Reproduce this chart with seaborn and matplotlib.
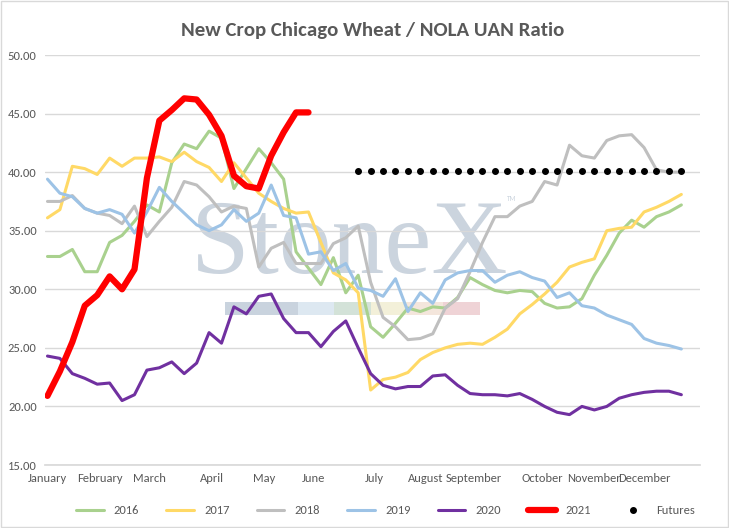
import numpy as np
import pandas as pd
import matplotlib
matplotlib.use("Agg")
import matplotlib.pyplot as plt
import seaborn as sns
from matplotlib.patches import Rectangle

months = ["January","February","March","April","May","June","July","August",
          "September","October","November","December"]
month_pos = [0, 4.2, 8.2, 13.25, 17.4, 21.4, 26.3, 30.4, 34.3, 39.8, 44.0, 48.0]

s2016 = [32.8,32.8,33.4,31.5,31.5,34.0,34.6,35.8,37.2,36.6,40.8,42.4,42.0,43.5,42.9,38.6,
         40.3,42.0,40.8,39.4,33.2,31.8,30.4,32.7,29.7,31.2,26.8,25.9,27.1,28.4,28.1,28.5,
         28.4,29.3,31.0,30.4,29.9,29.7,29.9,29.8,28.8,28.4,28.5,29.2,31.2,32.9,34.8,35.9,
         35.3,36.2,36.6,37.2]
s2017 = [36.1,36.8,40.5,40.3,39.8,41.2,40.5,41.2,41.2,41.3,40.9,41.7,40.9,40.4,39.2,40.8,
         39.5,38.2,37.5,36.9,36.5,36.6,34.0,31.4,30.8,29.7,21.4,22.3,22.5,22.9,24.0,24.6,
         25.0,25.3,25.4,25.3,25.9,26.6,27.9,28.7,29.6,30.6,31.9,32.3,32.6,35.0,35.2,35.3,
         36.6,37.0,37.5,38.1]
s2018 = [37.5,37.5,38.0,36.9,36.5,36.3,35.6,37.1,34.5,35.8,37.0,39.2,38.9,37.9,36.6,37.1,
         36.9,31.9,33.5,34.0,32.2,32.2,32.2,33.9,34.4,35.4,30.6,27.6,26.8,25.7,25.8,26.2,
         28.4,29.2,31.5,34.0,36.2,36.2,37.1,37.5,39.2,38.9,42.3,41.4,41.2,42.7,43.1,43.2,
         42.1,40.2,40.0,40.0]
s2019 = [39.4,38.2,37.9,36.9,36.5,36.8,36.4,34.8,36.6,38.7,37.5,36.5,35.5,35.0,35.5,36.8,
         35.8,36.5,38.9,36.3,36.1,33.0,33.2,31.6,32.2,30.1,29.9,29.4,30.9,28.1,29.7,28.8,
         30.8,31.4,31.6,31.6,30.6,31.2,31.5,31.0,30.7,29.3,29.7,28.6,28.4,27.8,27.4,27.0,
         25.8,25.4,25.2,24.9]
s2020 = [24.3,24.1,22.8,22.4,21.9,22.0,20.5,21.0,23.1,23.3,23.8,22.8,23.7,26.3,25.4,28.5,
         27.9,29.4,29.6,27.5,26.3,26.3,25.1,26.4,27.3,25.0,22.8,21.8,21.5,21.7,21.7,22.6,
         22.7,21.8,21.1,21.0,21.0,20.9,21.1,20.6,20.0,19.5,19.3,20.0,19.7,20.0,20.7,21.0,
         21.2,21.3,21.3,21.0]
s2021 = [20.9,23.0,25.5,28.6,29.5,31.1,30.0,31.7,39.5,44.4,45.3,46.3,46.2,44.9,43.1,39.7,
         38.8,38.6,41.4,43.4,45.1,45.1]
futures_val = 40.1
futures_start = 25
n_weeks = 52

sns.set_theme(style="white")
plt.rcParams['font.family'] = ['Carlito', 'Liberation Sans', 'DejaVu Sans']

fig = plt.figure(figsize=(7.29, 5.28), dpi=100)
ax = fig.add_axes([45/729, 63/528, 655/729, 410/528])

# watermark
ax.text(0.465, 0.53, "StoneX", transform=ax.transAxes, fontsize=76, color="#cbd4de",
        ha="center", va="center", family="Liberation Serif", zorder=0)
ax.text(0.705, 0.645, "TM", transform=ax.transAxes, fontsize=5, color="#cbd4de", zorder=0)
strip = ["#c9d3de", "#c9d3de", "#dde8f1", "#d3e2d8", "#f3f0d9", "#f4e6dc", "#efd3d6"]
for i, c in enumerate(strip):
    ax.add_patch(Rectangle((0.275 + i*0.0555, 0.365), 0.0555, 0.033,
                           transform=ax.transAxes, color=c, zorder=0, lw=0))

series = [("2016", s2016, "#A9D18E", 2.2), ("2017", s2017, "#FFD966", 2.2),
          ("2018", s2018, "#BFBFBF", 2.2), ("2019", s2019, "#9DC3E6", 2.2),
          ("2020", s2020, "#7030A0", 2.2), ("2021", s2021, "#FF0000", 4.5)]
for name, vals, col, lw in series:
    sns.lineplot(x=np.arange(len(vals)), y=vals, color=col, lw=lw, ax=ax, label=name, zorder=3)

fx = np.arange(futures_start, n_weeks)
ax.plot(fx, [futures_val]*len(fx), ls="none", marker="o", ms=4, color="black",
        label="Futures", zorder=4)

ax.set_ylim(15, 50)
ax.set_xlim(-0.2, 52.5)
ax.set_yticks(np.arange(15, 51, 5))
ax.set_yticklabels([f"{v:.2f}" for v in np.arange(15, 51, 5)], color="#595959", fontsize=9)
ax.set_xticks(month_pos)
ax.set_xticklabels(months, color="#595959", fontsize=9)
ax.tick_params(length=0, pad=6)
ax.grid(axis="y", color="#d9d9d9", lw=1)
for s in ["top", "right", "left"]:
    ax.spines[s].set_visible(False)
ax.spines["bottom"].set_color("#d9d9d9")

ax.set_title("New Crop Chicago Wheat / NOLA UAN Ratio", fontsize=15, color="#595959",
             fontweight="bold", pad=14)

h, l = ax.get_legend_handles_labels()
ax.legend(h, l, loc="upper center", bbox_to_anchor=(0.52, -0.07), ncol=7, frameon=False,
          fontsize=9, labelcolor="#595959", handlelength=2.2, columnspacing=2.2)

fig.patches.append(Rectangle((0.002, 0.002), 0.996, 0.996, transform=fig.transFigure,
                             fill=False, edgecolor="#d9d9d9", lw=1))
fig.savefig("out.png", dpi=100)
